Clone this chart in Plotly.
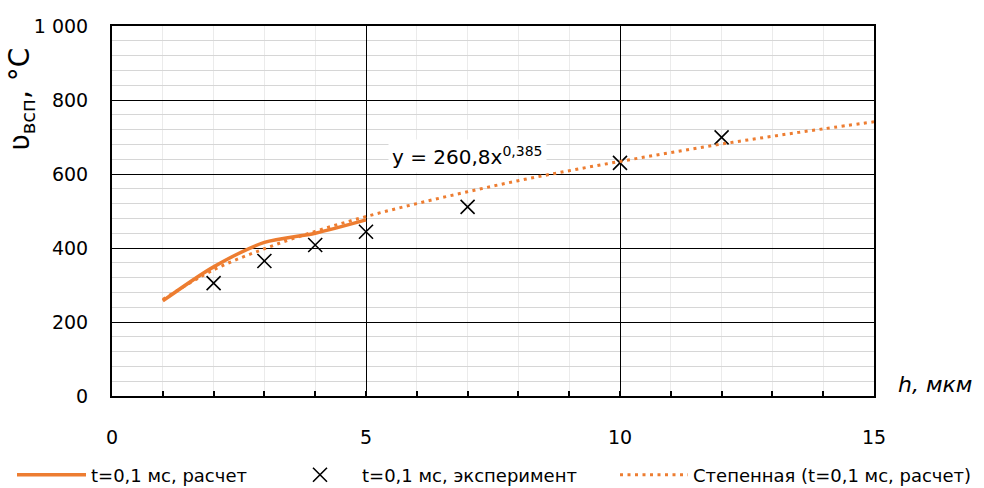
import plotly.graph_objects as go

# ---- data ----
calc_h = [1, 2, 3, 4, 5]
calc_t = [257, 349, 415, 440, 476]

exp_h = [2, 3, 4, 5, 7, 10, 12]
exp_t = [305, 365, 408, 444, 511, 630, 699]

trend_h = [1, 2, 3, 4, 5, 6, 7, 8, 9, 10, 11, 12, 13, 14, 15]
trend_t = [261, 341, 398, 445, 485, 520, 552, 582, 609, 634, 658, 681, 702, 722, 741]

x_ticks = [0, 5, 10, 15]
y_ticks = [0, 200, 400, 600, 800, 1000]

name_calc = "t=0,1 мс, расчет"
name_exp = "t=0,1 мс, эксперимент"
name_trend = "Степенная (t=0,1 мс, расчет)"
equation = "y = 260,8x<sup>0,385</sup>"

ORANGE = "#ED7D31"
FONT = "DejaVu Sans"

W, H = 984, 488
L, R, T, B = 112, 110, 26, 92
PW = W - L - R
PH = H - T - B


def cx(xp):
    return xp / W


def cy(yp):
    return 1 - yp / H


def px(xp):
    return (xp - L) / PW


def py(yp):
    return (H - B - yp) / PH


fig = go.Figure()
fig.add_trace(go.Scatter(
    x=calc_h, y=calc_t, name=name_calc, mode="lines",
    line=dict(color=ORANGE, width=3.5, shape="spline", smoothing=0.8),
    legend="legend",
))
fig.add_trace(go.Scatter(
    x=exp_h, y=exp_t, name=name_exp, mode="markers",
    marker=dict(symbol="x-thin", size=14, color="black",
                line=dict(color="black", width=1.6)),
    legend="legend2",
))
fig.add_trace(go.Scatter(
    x=trend_h, y=trend_t, name=name_trend, mode="lines",
    line=dict(color=ORANGE, width=3, dash="3px,4.5px", shape="spline"),
    legend="legend3",
))

axis_common = dict(
    showline=True, linecolor="black", linewidth=2, mirror=True,
    zeroline=False, showgrid=True, gridcolor="black", gridwidth=1.3,
    automargin=False,
    tickfont=dict(family=FONT, size=19, color="black"),
)

fig.update_xaxes(
    range=[0, 15], tickmode="array", tickvals=x_ticks,
    ticks="inside", ticklen=5, tickcolor="black", tickwidth=1.5,
    minor=dict(dtick=1, tick0=0, showgrid=True, gridcolor="#EBEBEB",
               gridwidth=1.3, ticks="inside", ticklen=5,
               tickcolor="black", tickwidth=1.5),
    ticklabelstandoff=23,
    **axis_common,
)
fig.update_yaxes(
    range=[0, 1000], tickmode="array", tickvals=y_ticks, tickformat=",",
    ticks="",
    minor=dict(dtick=40, tick0=0, showgrid=True, gridcolor="#D6D6D6",
               gridwidth=1.4),
    ticklabelstandoff=18,
    **axis_common,
)

leg_common = dict(orientation="h", yanchor="middle", xanchor="left",
                  xref="container", yref="container",
                  bgcolor="rgba(0,0,0,0)",
                  font=dict(family=FONT, size=18, color="black"))

fig.update_layout(
    width=W, height=H,
    margin=dict(l=L, r=R, t=T, b=B, pad=0, autoexpand=False),
    paper_bgcolor="white", plot_bgcolor="white",
    separators=", ",
    font=dict(family=FONT, color="black"),
    showlegend=True,
    legend=dict(x=cx(12), y=cy(475), itemwidth=69, **leg_common),
    legend2=dict(x=cx(278), y=cy(475), itemwidth=74, **leg_common),
    legend3=dict(x=cx(615), y=cy(475), itemwidth=68, **leg_common),
    annotations=[
        dict(x=7.0, y=648, xref="x", yref="y", text=equation,
             showarrow=False, bgcolor="white", borderpad=3,
             font=dict(family=FONT, size=20, color="black")),
        dict(x=px(22), y=py(100), xref="paper", yref="paper",
             text="ʋ<sub>всп</sub>, °C", textangle=-90, showarrow=False,
             xanchor="center", yanchor="middle",
             font=dict(family=FONT, size=28, color="black")),
        dict(x=px(935), y=py(384), xref="paper", yref="paper",
             text="<i>h, мкм</i>", showarrow=False,
             xanchor="center", yanchor="middle",
             font=dict(family=FONT, size=22, color="black")),
    ],
)

fig.write_html("out.html",
               config={"displayModeBar": False},
               post_script="document.body.style.margin='0';")
